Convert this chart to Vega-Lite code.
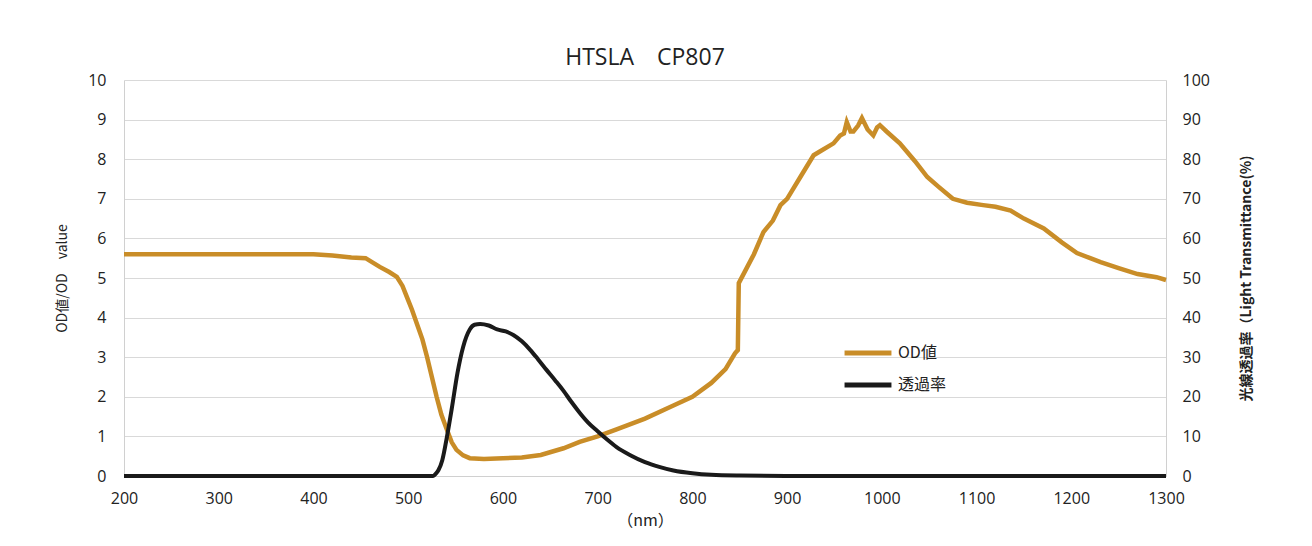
{
  "$schema": "https://vega.github.io/schema/vega-lite/v6.json",
  "width": 1042,
  "height": 396,
  "autosize": "none",
  "padding": {"left": 124, "top": 80, "right": 146, "bottom": 70},
  "background": "white",
  "title": {"text": "HTSLA　CP807", "font": "Open Sans", "fontSize": 23, "fontWeight": "normal", "color": "#222222", "offset": 2, "anchor": "middle"},
  "datasets": {
    "od": [
      {"nm": 200, "od": 5.6}, {"nm": 250, "od": 5.6}, {"nm": 300, "od": 5.6}, {"nm": 350, "od": 5.6}, {"nm": 400, "od": 5.6},
      {"nm": 420, "od": 5.57}, {"nm": 440, "od": 5.52}, {"nm": 455, "od": 5.5}, {"nm": 470, "od": 5.28}, {"nm": 480, "od": 5.15},
      {"nm": 488, "od": 5.03}, {"nm": 494, "od": 4.8}, {"nm": 499, "od": 4.5}, {"nm": 504, "od": 4.2}, {"nm": 509, "od": 3.86},
      {"nm": 515, "od": 3.45}, {"nm": 520, "od": 3.0}, {"nm": 525, "od": 2.5}, {"nm": 530, "od": 2.0}, {"nm": 535, "od": 1.55},
      {"nm": 541, "od": 1.16}, {"nm": 546, "od": 0.85}, {"nm": 551, "od": 0.66}, {"nm": 558, "od": 0.52}, {"nm": 565, "od": 0.45},
      {"nm": 580, "od": 0.43}, {"nm": 600, "od": 0.45}, {"nm": 620, "od": 0.47}, {"nm": 640, "od": 0.53}, {"nm": 664, "od": 0.7},
      {"nm": 681, "od": 0.86}, {"nm": 700, "od": 1.0}, {"nm": 720, "od": 1.18}, {"nm": 750, "od": 1.45}, {"nm": 780, "od": 1.78},
      {"nm": 800, "od": 2.0}, {"nm": 820, "od": 2.35}, {"nm": 835, "od": 2.7}, {"nm": 845, "od": 3.1}, {"nm": 848, "od": 3.18},
      {"nm": 849, "od": 4.87}, {"nm": 858, "od": 5.28}, {"nm": 865, "od": 5.6}, {"nm": 875, "od": 6.16}, {"nm": 885, "od": 6.45},
      {"nm": 893, "od": 6.84}, {"nm": 900, "od": 7.0}, {"nm": 914, "od": 7.55}, {"nm": 928, "od": 8.1}, {"nm": 935, "od": 8.2},
      {"nm": 949, "od": 8.4}, {"nm": 956, "od": 8.6}, {"nm": 960, "od": 8.65}, {"nm": 963, "od": 8.94}, {"nm": 967, "od": 8.7},
      {"nm": 970, "od": 8.7}, {"nm": 975, "od": 8.85}, {"nm": 979, "od": 9.04}, {"nm": 985, "od": 8.75}, {"nm": 991, "od": 8.6},
      {"nm": 995, "od": 8.8}, {"nm": 998, "od": 8.86}, {"nm": 1005, "od": 8.7}, {"nm": 1019, "od": 8.4}, {"nm": 1035, "od": 7.95},
      {"nm": 1048, "od": 7.55}, {"nm": 1060, "od": 7.3}, {"nm": 1075, "od": 7.0}, {"nm": 1090, "od": 6.9}, {"nm": 1107, "od": 6.84},
      {"nm": 1120, "od": 6.8}, {"nm": 1136, "od": 6.7}, {"nm": 1150, "od": 6.5}, {"nm": 1171, "od": 6.25}, {"nm": 1190, "od": 5.9},
      {"nm": 1206, "od": 5.63}, {"nm": 1220, "od": 5.5}, {"nm": 1231, "od": 5.4}, {"nm": 1250, "od": 5.25}, {"nm": 1270, "od": 5.1},
      {"nm": 1290, "od": 5.02}, {"nm": 1300, "od": 4.95}
    ],
    "tr": [
      {"nm": 200, "t": 0}, {"nm": 300, "t": 0}, {"nm": 400, "t": 0}, {"nm": 500, "t": 0}, {"nm": 520, "t": 0}, {"nm": 526, "t": 0},
      {"nm": 530, "t": 0.8}, {"nm": 532, "t": 1.5}, {"nm": 536, "t": 4}, {"nm": 541, "t": 10}, {"nm": 546, "t": 17}, {"nm": 552, "t": 26},
      {"nm": 558, "t": 32.6}, {"nm": 565, "t": 37}, {"nm": 570, "t": 38.2}, {"nm": 576, "t": 38.4}, {"nm": 585, "t": 38}, {"nm": 594, "t": 37},
      {"nm": 603, "t": 36.5}, {"nm": 611, "t": 35.6}, {"nm": 620, "t": 34}, {"nm": 629, "t": 31.8}, {"nm": 637, "t": 29.5}, {"nm": 646, "t": 26.8},
      {"nm": 655, "t": 24.2}, {"nm": 664, "t": 21.5}, {"nm": 672, "t": 18.8}, {"nm": 681, "t": 16.0}, {"nm": 690, "t": 13.5}, {"nm": 700, "t": 11.3},
      {"nm": 710, "t": 9.2}, {"nm": 720, "t": 7.3}, {"nm": 735, "t": 5.2}, {"nm": 750, "t": 3.5}, {"nm": 765, "t": 2.3}, {"nm": 780, "t": 1.4},
      {"nm": 800, "t": 0.7}, {"nm": 820, "t": 0.3}, {"nm": 850, "t": 0.1}, {"nm": 900, "t": 0}, {"nm": 1000, "t": 0}, {"nm": 1100, "t": 0},
      {"nm": 1200, "t": 0}, {"nm": 1300, "t": 0}
    ]
  },
  "config": {
    "view": {"stroke": null},
    "font": "Open Sans",
    "axis": {"labelFont": "Open Sans", "labelFontSize": 16, "labelColor": "#222222", "labelFlush": false, "ticks": false, "domainColor": "#d0d0d0", "gridColor": "#d9d9d9", "titleColor": "#222222", "titleFontWeight": "normal"}
  },
  "encoding": {
    "x": {"field": "nm", "type": "quantitative", "scale": {"domain": [200, 1300], "nice": false},
      "axis": {"values": [200, 300, 400, 500, 600, 700, 800, 900, 1000, 1100, 1200, 1300], "format": "d", "grid": false, "labelPadding": 14, "title": "（nm）", "titleFont": "Noto Sans CJK JP", "titleFontSize": 16, "titlePadding": 6}}
  },
  "layer": [
    {
      "data": {"name": "od"},
      "mark": {"type": "line", "strokeWidth": 4.5, "interpolate": "linear"},
      "encoding": {
        "y": {"field": "od", "type": "quantitative", "scale": {"domain": [0, 10], "nice": false},
          "axis": {"values": [0, 1, 2, 3, 4, 5, 6, 7, 8, 9, 10], "grid": true, "labelPadding": 18, "title": "OD値/OD　value", "titleFont": "Noto Sans CJK JP", "titleFontSize": 14, "titlePadding": 18}},
        "color": {"datum": "OD値", "type": "nominal",
          "scale": {"domain": ["OD値", "透過率"], "range": ["#C98D28", "#1a1a1a"]},
          "legend": {"title": null, "orient": "none", "legendX": 718, "legendY": 263, "symbolType": "stroke", "symbolSize": 2200, "symbolStrokeWidth": 5, "clipHeight": 20, "labelFont": "Noto Sans CJK JP", "labelFontSize": 16, "labelColor": "#222222", "rowPadding": 12, "labelOffset": 4}}
      }
    },
    {
      "data": {"name": "tr"},
      "mark": {"type": "line", "strokeWidth": 4, "interpolate": "monotone"},
      "encoding": {
        "y": {"field": "t", "type": "quantitative", "scale": {"domain": [0, 100], "nice": false},
          "axis": {"orient": "right", "values": [0, 10, 20, 30, 40, 50, 60, 70, 80, 90, 100], "grid": false, "labelPadding": 16, "title": "光線透過率（Light Transmittance(%)", "titleAngle": 270, "titleFont": "Noto Sans CJK JP", "titleFontSize": 14, "titleFontWeight": "bold", "titlePadding": 44}},
        "color": {"datum": "透過率", "type": "nominal"}
      }
    }
  ],
  "resolve": {"scale": {"y": "independent"}}
}
